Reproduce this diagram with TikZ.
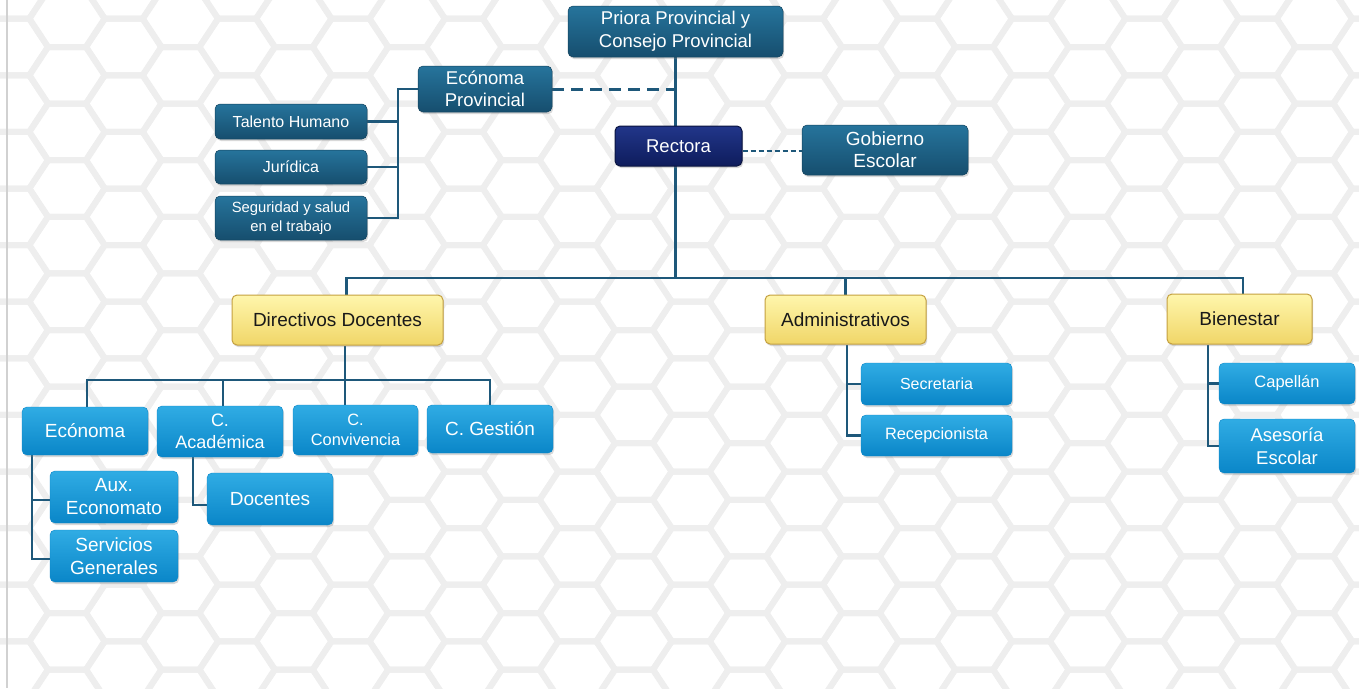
\documentclass[tikz,border=0pt]{standalone}
\usepackage{fontspec}
\setmainfont{Liberation Sans}
\usetikzlibrary{shadows}
\pgfdeclarelayer{hex}
\pgfdeclarelayer{bg}
\pgfsetlayers{hex,bg,main}
\definecolor{dtop}{RGB}{38,116,156}
\definecolor{dbot}{RGB}{22,78,110}
\definecolor{ntop}{RGB}{34,54,138}
\definecolor{nbot}{RGB}{14,28,92}
\definecolor{ytop}{RGB}{255,246,172}
\definecolor{ybot}{RGB}{240,214,104}
\definecolor{yedge}{RGB}{196,160,64}
\definecolor{btop}{RGB}{48,172,228}
\definecolor{bbot}{RGB}{10,134,200}
\definecolor{conncol}{RGB}{30,88,122}
\definecolor{hexcol}{RGB}{238,238,238}
\newcommand\fsz[2]{\fontsize{#1pt}{#2pt}\selectfont}
\tikzset{
  box/.style={rounded corners=5pt, align=center, inner sep=2pt,
    drop shadow={shadow xshift=1.2pt, shadow yshift=-2pt, opacity=0.3}},
  darkbox/.style={box, top color=dtop, bottom color=dbot, draw=dbot!85!black, line width=0.5pt, text=white},
  navybox/.style={box, top color=ntop, bottom color=nbot, draw=nbot!70!black, line width=1pt, text=white},
  yelbox/.style={box, top color=ytop, bottom color=ybot, draw=yedge, line width=1pt, text=black!90},
  bluebox/.style={box, top color=btop, bottom color=bbot, draw=bbot, line width=0.4pt, text=white},
  conn/.style={draw=conncol, line width=2.4pt},
  dashA/.style={draw=conncol, line width=3pt, dash pattern=on 12pt off 7pt},
  dashB/.style={draw=conncol, line width=2pt, dash pattern=on 5pt off 3pt},
  hexline/.style={draw=hexcol, line width=6pt, line join=round}
}
\begin{document}
\begin{tikzpicture}[x=1pt,y=-1pt]
\useasboundingbox (0,0) rectangle (1359,688);
\begin{pgfonlayer}{hex}
  \fill[white] (0,0) rectangle (1359,688);
  \begin{scope}
    \clip (0,0) rectangle (1359,688);
    \foreach \i in {-1,...,12} {
      \foreach \j in {-1,...,12} {
        \pgfmathsetmacro\cx{67+113.4*\i}
        \pgfmathsetmacro\cy{75.3+56.6*\j}
        \draw[hexline] (\cx-37.7,\cy) -- (\cx-19,\cy-28.3) -- (\cx+19,\cy-28.3) -- (\cx+37.7,\cy) -- (\cx+19,\cy+28.3) -- (\cx-19,\cy+28.3) -- cycle;
        \pgfmathsetmacro\dx{123.7+113.4*\i}
        \pgfmathsetmacro\dy{47+56.6*\j}
        \draw[hexline] (\dx-37.7,\dy) -- (\dx-19,\dy-28.3) -- (\dx+19,\dy-28.3) -- (\dx+37.7,\dy) -- (\dx+19,\dy+28.3) -- (\dx-19,\dy+28.3) -- cycle;
      }
    }
  \end{scope}
  \draw[black!18, line width=1.2pt] (7,0) -- (7,688);
\end{pgfonlayer}

% nodes
\node[darkbox, minimum width=215pt, minimum height=51pt, font=\fsz{18.5}{23}] (priora) at (675.5,31.5) {Priora Provincial y\\Consejo Provincial};
\node[navybox, minimum width=127pt, minimum height=40pt, font=\fsz{18.5}{22}] (rectora) at (678.5,146) {Rectora};
\node[darkbox, minimum width=166pt, minimum height=50pt, font=\fsz{19}{22}] (gobierno) at (885,150) {Gobierno\\Escolar};
\node[darkbox, minimum width=134pt, minimum height=46pt, font=\fsz{18.5}{22}] (econprov) at (485,89) {Ecónoma\\Provincial};
\node[darkbox, minimum width=152pt, minimum height=35pt, font=\fsz{16}{19}] (talento) at (291,121.5) {Talento Humano};
\node[darkbox, minimum width=152pt, minimum height=34pt, font=\fsz{16}{19}] (juridica) at (291,167) {Jurídica};
\node[darkbox, minimum width=152pt, minimum height=44pt, font=\fsz{14.8}{19}] (seguridad) at (291,218) {Seguridad y salud\\en el trabajo};

\node[yelbox, minimum width=211pt, minimum height=50pt, font=\fsz{19}{22}] (directivos) at (337.5,320) {Directivos Docentes};
\node[yelbox, minimum width=161pt, minimum height=49pt, font=\fsz{19}{22}] (admin) at (845.5,319.5) {Administrativos};
\node[yelbox, minimum width=145pt, minimum height=50pt, font=\fsz{19}{22}] (bienestar) at (1239.5,319) {Bienestar};

\node[bluebox, minimum width=126pt, minimum height=48pt, font=\fsz{19}{22}] (economa) at (85,431) {Ecónoma};
\node[bluebox, minimum width=126pt, minimum height=51pt, font=\fsz{18}{22}] (academica) at (220,431.5) {C.\\Académica};
\node[bluebox, minimum width=125pt, minimum height=50pt, font=\fsz{16.4}{20}] (convivencia) at (355.5,430) {C.\\Convivencia};
\node[bluebox, minimum width=126pt, minimum height=48pt, font=\fsz{19}{22}] (gestion) at (490,429) {C. Gestión};
\node[bluebox, minimum width=128pt, minimum height=52pt, font=\fsz{19}{23}] (aux) at (114,497) {Aux.\\Economato};
\node[bluebox, minimum width=128pt, minimum height=52pt, font=\fsz{19}{23}] (servicios) at (114,556) {Servicios\\Generales};
\node[bluebox, minimum width=126pt, minimum height=52pt, font=\fsz{19}{22}] (docentes) at (270,499) {Docentes};

\node[bluebox, minimum width=151pt, minimum height=42pt, font=\fsz{16}{19}] (secretaria) at (936.5,384) {Secretaria};
\node[bluebox, minimum width=151pt, minimum height=41pt, font=\fsz{16.4}{19}] (recepcion) at (936.5,435.5) {Recepcionista};
\node[bluebox, minimum width=136pt, minimum height=41pt, font=\fsz{16.5}{19}] (capellan) at (1287,383.5) {Capellán};
\node[bluebox, minimum width=136pt, minimum height=54pt, font=\fsz{18.5}{23}] (asesoria) at (1287,446) {Asesoría\\Escolar};

\coordinate (busy) at (0,278);
\coordinate (dbus) at (0,380);

\begin{pgfonlayer}{bg}
  % top spine
  \draw[conn] (priora.south) -- (priora.south |- busy);
  \draw[conn] ([xshift=9pt]directivos.north) |- ([xshift=3.5pt]bienestar.north |- busy) -- ([xshift=3.5pt]bienestar.north);
  \draw[conn] (admin.north) -- (admin.north |- busy);
  % dashed links
  \draw[dashA] (econprov.east) -- (econprov.east -| priora.south);
  \draw[dashB] ([yshift=-5pt]rectora.east) -- ([yshift=-5pt]rectora.east -| gobierno.west);
  % economa provincial group
  \draw[conn] (econprov.west) -| ([xshift=31pt]seguridad.east) -- (seguridad.east);
  \draw[conn] (talento.east) -- ++(31,0);
  \draw[conn] (juridica.east) -- ++(31,0);
  % directivos group
  \draw[conn] ([xshift=7.5pt]directivos.south) -- ([xshift=7.5pt]directivos.south |- convivencia.north);
  \draw[conn] ([xshift=2pt]economa.north) |- (dbus -| gestion.north) -- (gestion.north);
  \draw[conn] ([xshift=3pt]academica.north) -- ([xshift=3pt]academica.north |- dbus);
  \draw[conn] ([xshift=-53pt]economa.south) |- ([yshift=-3pt]servicios.west);
  \draw[conn] ([xshift=-53pt]economa.south |- aux.west) ++(0,3) -- ([yshift=-3pt]aux.west);
  \draw[conn] ([xshift=-27pt]academica.south) |- ([yshift=-6pt]docentes.west);
  % administrativos group
  \draw[conn] ([xshift=1.5pt]admin.south) |- (recepcion.west);
  \draw[conn] ([xshift=1.5pt]admin.south |- secretaria.west) -- (secretaria.west);
  % bienestar group
  \draw[conn] ([xshift=-31.5pt]bienestar.south) |- (asesoria.west);
  \draw[conn] ([xshift=-31.5pt]bienestar.south |- capellan.west) -- (capellan.west);
\end{pgfonlayer}
\end{tikzpicture}
\end{document}
